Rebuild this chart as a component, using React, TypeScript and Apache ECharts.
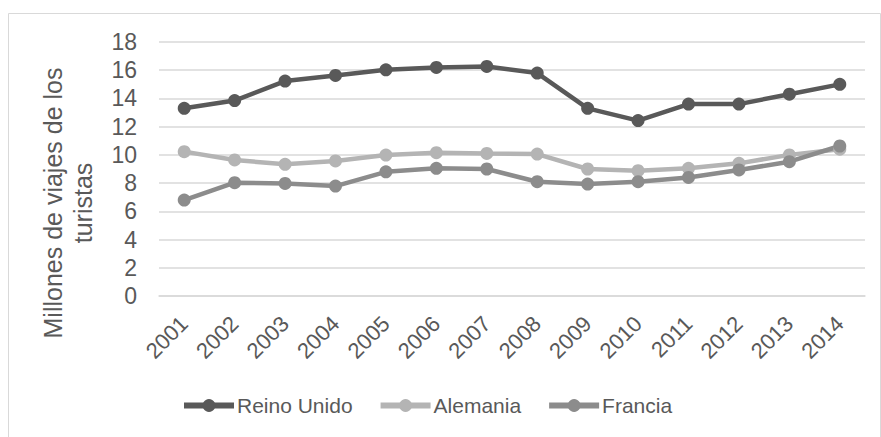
import React, { useEffect, useRef } from "react";
import * as echarts from "echarts";

const years = ["2001","2002","2003","2004","2005","2006","2007","2008","2009","2010","2011","2012","2013","2014"];
const reinoUnido = [13.3, 13.85, 15.23, 15.63, 16.03, 16.2, 16.27, 15.8, 13.3, 12.43, 13.6, 13.6, 14.3, 15.0];
const alemania = [10.23, 9.64, 9.33, 9.57, 9.99, 10.16, 10.1, 10.06, 9.0, 8.88, 9.05, 9.4, 10.0, 10.4];
const francia = [6.8, 8.03, 7.98, 7.79, 8.8, 9.05, 9.0, 8.1, 7.93, 8.1, 8.4, 8.93, 9.52, 10.63];
const yTitle = "Millones de viajes de los\nturistas";

const FONT = "'Liberation Sans', Arial, sans-serif";
const TXT = "#595959";

export default function App() {
  const ref = useRef<HTMLDivElement>(null);
  useEffect(() => {
    if (!ref.current) return;
    const chart = echarts.init(ref.current, null, { renderer: "svg" });
    const mk = (name: string, data: number[], color: string) => ({
      name,
      type: "line",
      data,
      symbol: "circle",
      symbolSize: 13,
      itemStyle: { color },
      lineStyle: { color, width: 4.5 },
      z: 2,
    });
    chart.setOption({
      animation: false,
      backgroundColor: "#fff",
      textStyle: { fontFamily: FONT },
      graphic: [
        {
          type: "rect",
          shape: { x: 8.5, y: 13.5, width: 872, height: 440 },
          style: { fill: "none", stroke: "#d9d9d9", lineWidth: 1 },
          silent: true,
        },
        {
          type: "text",
          x: 68,
          y: 203,
          rotation: Math.PI / 2,
          style: {
            text: yTitle,
            fill: TXT,
            font: `25px ${FONT}`,
            lineHeight: 30,
            align: "center",
            verticalAlign: "middle",
          },
          silent: true,
        },
      ],
      grid: { left: 159, right: 16, top: 42, bottom: 141, containLabel: false },
      legend: {
        top: 390,
        left: 176,
        itemWidth: 50,
        itemHeight: 16,
        itemGap: 25,
        lineStyle: { width: 6 },
        textStyle: { color: TXT, fontSize: 21, fontFamily: FONT, padding: [0, 0, 0, -2] },
        data: ["Reino Unido", "Alemania", "Francia"],
      },
      xAxis: {
        type: "category",
        data: years,
        boundaryGap: true,
        axisLine: { lineStyle: { color: "#d9d9d9", width: 1.5 } },
        axisTick: { show: false },
        axisLabel: { rotate: 45, color: TXT, fontSize: 22, fontFamily: FONT, margin: 24, interval: 0 },
      },
      yAxis: {
        type: "value",
        min: 0,
        max: 18,
        interval: 2,
        axisLine: { show: false },
        axisTick: { show: false },
        axisLabel: { color: TXT, fontSize: 23, fontFamily: FONT, margin: 22 },
        splitLine: { lineStyle: { color: "#d9d9d9", width: 1.5 } },
      },
      series: [
        mk("Reino Unido", reinoUnido, "#595959"),
        mk("Alemania", alemania, "#b4b4b4"),
        mk("Francia", francia, "#8c8c8c"),
      ],
    });
    return () => chart.dispose();
  }, []);
  return <div ref={ref} style={{ width: 881, height: 437, position: "absolute", left: 0, top: 0 }} />;
}
